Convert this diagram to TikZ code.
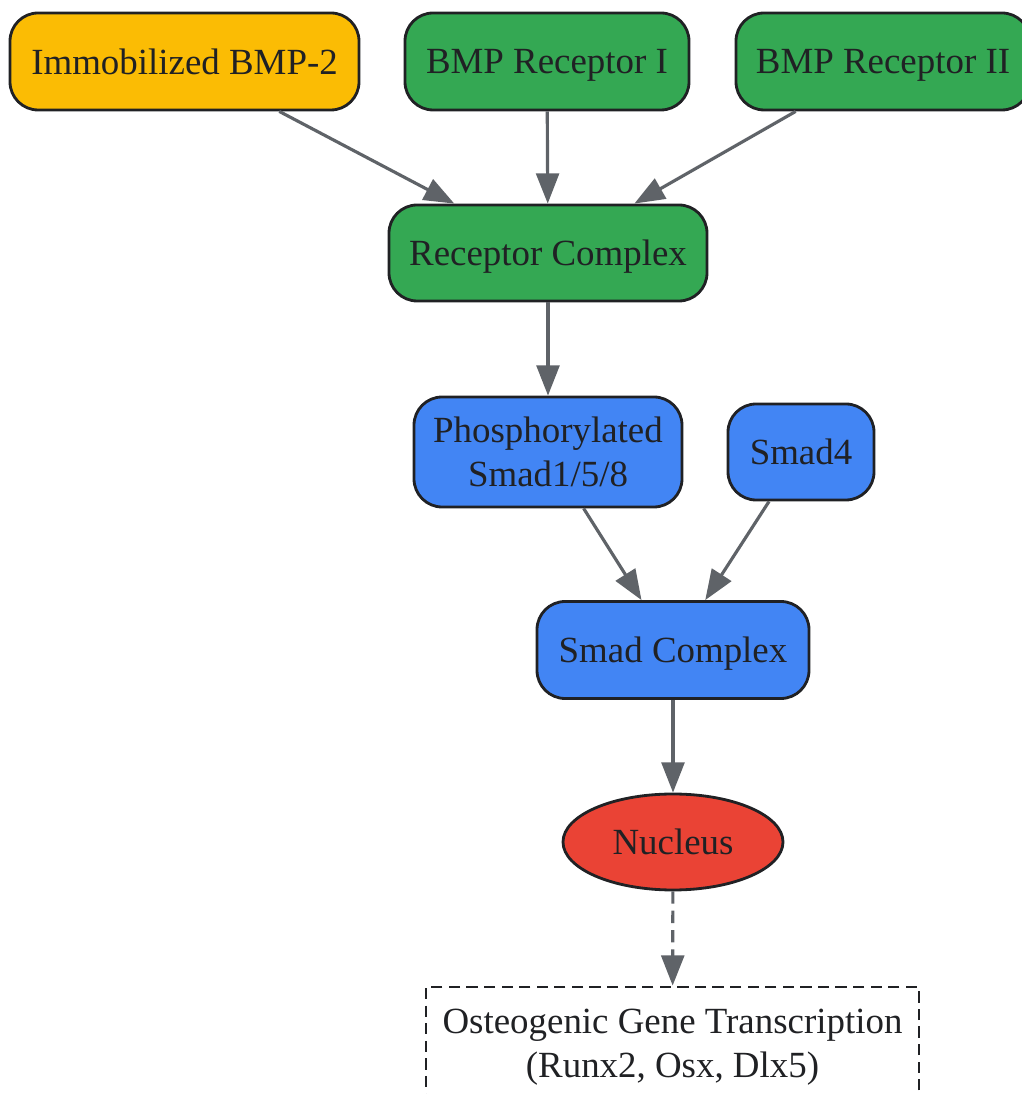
\documentclass[tikz,border=0pt]{standalone}
\usepackage{fontspec}
\setmainfont{Liberation Serif}
\usepackage{xcolor}
\usepackage{tikz}
\usetikzlibrary{arrows.meta, shapes.geometric}
\definecolor{ink}{HTML}{202124}
\definecolor{edgegray}{HTML}{5F6368}
\definecolor{bmpyellow}{HTML}{FBBC04}
\definecolor{recgreen}{HTML}{34A853}
\definecolor{smadblue}{HTML}{4285F4}
\definecolor{nucred}{HTML}{EA4335}
\tikzstyle{box} = [draw=ink, line width=0.8pt, rounded corners=8pt, inner sep=0pt, align=center, text=ink, font=\fontsize{10.5}{12.5}\selectfont]
\tikzstyle{oneline} = [text depth=0pt]
\tikzstyle{arrow} = [draw=edgegray, line width=0.9pt, -{Triangle[length=8.6pt, width=6.5pt]}]

\begin{document}
\begin{tikzpicture}

\useasboundingbox (0, 0) rectangle (10.22, 10.94);
\clip (0, 0) rectangle (10.22, 10.94);

% top row
\node [box, oneline, fill=bmpyellow, minimum width=3.49cm, minimum height=0.97cm] (bmp) at (1.845, 10.325) {Immobilized BMP-2};
\node [box, oneline, fill=recgreen, minimum width=2.84cm, minimum height=0.97cm] (rec1) at (5.47, 10.325) {BMP Receptor I};
\node [box, oneline, fill=recgreen, minimum width=2.94cm, minimum height=0.97cm] (rec2) at (8.83, 10.325) {BMP Receptor II};

\node [box, oneline, fill=recgreen, minimum width=3.18cm, minimum height=0.96cm] (complex) at (5.48, 8.41) {Receptor Complex};

% smads
\node [box, fill=smadblue, minimum width=2.68cm, minimum height=1.10cm] (psmad) at (5.48, 6.42) {Phosphorylated\\Smad1/5/8};
\node [box, oneline, fill=smadblue, minimum width=1.46cm, minimum height=0.96cm] (smad4) at (8.01, 6.42) {Smad4};
\node [box, oneline, fill=smadblue, minimum width=2.72cm, minimum height=0.97cm] (smadc) at (6.73, 4.44) {Smad Complex};

\node [box, oneline, ellipse, fill=nucred, minimum width=2.20cm, minimum height=0.96cm] (nucleus) at (6.73, 2.52) {Nucleus};
\node [box, rounded corners=0pt, dashed, dash pattern=on 3.2pt off 1.8pt, minimum width=4.93cm, minimum height=1.20cm] (gene) at (6.725, 0.47) {Osteogenic Gene Transcription\\(Runx2, Osx, Dlx5)};

\draw [arrow] (bmp) -- (complex);
\draw [arrow] (rec1) -- (complex);
\draw [arrow] (rec2) -- (complex);
\draw [arrow] (complex) -- (psmad);
\draw [arrow] (psmad) -- (smadc);
\draw [arrow] (smad4) -- (smadc);
\draw [arrow] (smadc) -- (nucleus);
\draw [arrow, dash pattern=on 3.5pt off 2pt] (nucleus) -- (gene);

\end{tikzpicture}
\end{document}
